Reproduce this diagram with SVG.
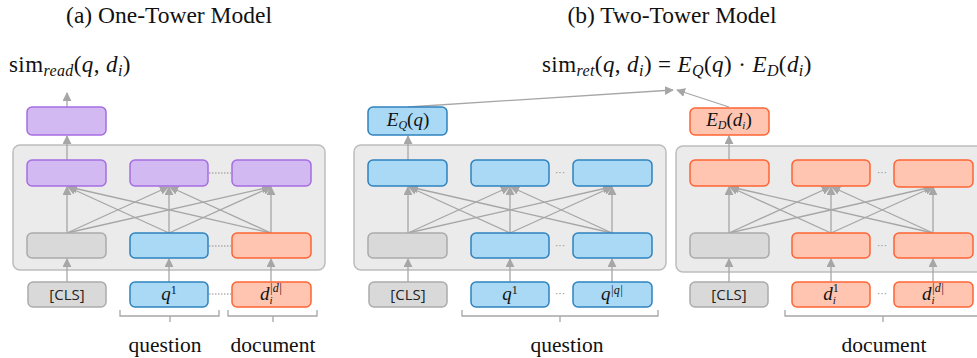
<svg xmlns="http://www.w3.org/2000/svg" width="977" height="358" viewBox="0 0 977 358">
<defs>
<marker id="ah" viewBox="0 0 10 10" refX="9" refY="5" markerWidth="9" markerHeight="9" markerUnits="userSpaceOnUse" orient="auto">
<path d="M0,0 L10,5 L0,10 Z" fill="#A6A6A6"/>
</marker>
<style>
.t{font-family:"Liberation Serif","Times New Roman",serif;fill:#111}
.i{font-style:italic}
.panel{fill:#EBEBEB;stroke:#BDBDBD;stroke-width:1.5}
.pu{fill:#D3B9F1;stroke:#A56DE2;stroke-width:1.5}
.bl{fill:#A9D9F5;stroke:#2E83BF;stroke-width:1.5}
.sa{fill:#FFC5B1;stroke:#FF6435;stroke-width:1.5}
.gr{fill:#D9D9D9;stroke:#ABABAB;stroke-width:1.5}
.c{stroke:#A6A6A6;stroke-width:1.3;fill:none}
.a{stroke:#A6A6A6;stroke-width:1.3;fill:none;marker-end:url(#ah)}
.dot{stroke:#8C8C8C;stroke-width:1;stroke-dasharray:1.5 1.5;fill:none}
.ell{font-family:"Liberation Sans",Arial,sans-serif;font-size:10px;fill:#8C8C8C}
.cls{font-family:"Open Sans","DejaVu Sans",sans-serif;font-size:15px;fill:#222}
.bt{font-family:"Liberation Serif",serif;font-style:italic;font-size:19px;fill:#111}
</style>
</defs>

<!-- titles -->
<text class="t" x="169" y="23" font-size="23.5" text-anchor="middle">(a) One-Tower Model</text>
<text class="t" x="672" y="23" font-size="23.5" text-anchor="middle">(b) Two-Tower Model</text>

<text class="t" x="9" y="72" font-size="23" letter-spacing="0.4">sim<tspan class="i" font-size="16" dy="4">read</tspan><tspan dy="-4">(</tspan><tspan class="i">q</tspan>, <tspan class="i">d</tspan><tspan class="i" font-size="16" dy="4">i</tspan><tspan dy="-4">)</tspan></text>
<text class="t" x="542" y="72" font-size="23" letter-spacing="0.4">sim<tspan class="i" font-size="16" dy="4">ret</tspan><tspan dy="-4">(</tspan><tspan class="i">q</tspan>, <tspan class="i">d</tspan><tspan class="i" font-size="16" dy="4">i</tspan><tspan dy="-4">) = </tspan><tspan class="i">E</tspan><tspan class="i" font-size="16" dy="4">Q</tspan><tspan dy="-4">(</tspan><tspan class="i">q</tspan>) · <tspan class="i">E</tspan><tspan class="i" font-size="16" dy="4">D</tspan><tspan dy="-4">(</tspan><tspan class="i">d</tspan><tspan class="i" font-size="16" dy="4">i</tspan><tspan dy="-4">)</tspan></text>

<!-- panels -->
<g id="panel-one"><rect class="panel" x="13" y="145" width="312" height="125" rx="7"/></g>
<g id="panel-q"><rect class="panel" x="354" y="145" width="312" height="125" rx="7"/></g>
<g id="panel-d"><rect class="panel" x="676" y="146" width="320" height="126" rx="7"/></g>

<!-- connectors -->
<g id="connectors">
<path class="a" d="M67,107 V93"/>
<path class="a" d="M67,160 V136"/>
<path class="a" d="M67,233 L67,187"/><path class="a" d="M67,233 L168,187"/><path class="a" d="M67,233 L270,187"/>
<path class="a" d="M169,233 L68,187"/><path class="a" d="M169,233 L169,187"/><path class="a" d="M169,233 L271,187"/>
<path class="a" d="M271,233 L69,187"/><path class="a" d="M271,233 L170,187"/><path class="a" d="M271,233 L271,187"/>
<path class="a" d="M67,282 V259"/><path class="a" d="M169,282 V259"/><path class="a" d="M271,282 V259"/>
<path class="dot" d="M209,173 H231 M209,246 H231 M209,294 H231"/>
<path class="a" d="M408,107 L673,90"/>
<path class="a" d="M408,160 V136"/>
<path class="a" d="M408,233 L408,187"/><path class="a" d="M408,233 L509,187"/><path class="a" d="M408,233 L611,187"/>
<path class="a" d="M510,233 L409,187"/><path class="a" d="M510,233 L510,187"/><path class="a" d="M510,233 L612,187"/>
<path class="a" d="M612,233 L410,187"/><path class="a" d="M612,233 L511,187"/><path class="a" d="M612,233 L612,187"/>
<path class="a" d="M408,282 V259"/><path class="a" d="M510,282 V259"/><path class="a" d="M612,282 V259"/>
<path class="a" d="M729,107 L677,90"/>
<path class="a" d="M729,160 V136"/>
<path class="a" d="M729,233 L729,187"/><path class="a" d="M729,233 L830,187"/><path class="a" d="M729,233 L932,187"/>
<path class="a" d="M831,233 L730,187"/><path class="a" d="M831,233 L831,187"/><path class="a" d="M831,233 L933,187"/>
<path class="a" d="M933,233 L731,187"/><path class="a" d="M933,233 L832,187"/><path class="a" d="M933,233 L933,187"/>
<path class="a" d="M729,282 V259"/><path class="a" d="M831,282 V259"/><path class="a" d="M933,282 V259"/>
<path class="c" d="M120,310 V316 H219 V310 M170,316 V322"/>
<path class="c" d="M228,310 V316 H317 V310 M273,316 V322"/>
<path class="c" d="M462,310 V316 H658 V310 M560,316 V322"/>
<path class="c" d="M785,310 V316 H980 M883,316 V322"/>
</g>

<text class="ell" x="560" y="176" text-anchor="middle">···</text>
<text class="ell" x="560" y="249" text-anchor="middle">···</text>
<text class="ell" x="560" y="297" text-anchor="middle">···</text>
<text class="ell" x="882" y="176" text-anchor="middle">···</text>
<text class="ell" x="882" y="249" text-anchor="middle">···</text>
<text class="ell" x="882" y="297" text-anchor="middle">···</text>

<!-- one tower nodes -->
<g id="a-out"><rect class="pu" x="27" y="107" width="79" height="28" rx="5"/></g>
<g id="a-h1"><rect class="pu" x="27" y="160" width="79" height="26" rx="5"/></g>
<g id="a-h2"><rect class="pu" x="130" y="160" width="78" height="26" rx="5"/></g>
<g id="a-h3"><rect class="pu" x="232" y="160" width="79" height="26" rx="5"/></g>
<g id="a-e1"><rect class="gr" x="27" y="233" width="79" height="25" rx="5"/></g>
<g id="a-e2"><rect class="bl" x="130" y="233" width="78" height="25" rx="5"/></g>
<g id="a-e3"><rect class="sa" x="232" y="233" width="79" height="25" rx="5"/></g>
<g id="a-cls"><rect class="gr" x="28" y="282" width="78" height="25" rx="5"/><text class="cls" x="67" y="300" text-anchor="middle">[CLS]</text></g>
<g id="a-q1"><rect class="bl" x="130" y="282" width="78" height="25" rx="5"/><text class="bt" x="169" y="300" text-anchor="middle">q<tspan font-style="normal" font-size="12" dy="-6">1</tspan></text></g>
<g id="a-d"><rect class="sa" x="232" y="282" width="79" height="25" rx="5"/><text class="bt" x="271" y="300" text-anchor="middle">d<tspan font-size="11" dy="4">i</tspan><tspan font-size="12" dx="-3" dy="-12">|d|</tspan></text></g>

<!-- question tower nodes -->
<g id="b-eq"><rect class="bl" x="368" y="107" width="79" height="28" rx="5"/><text class="bt" x="408" y="126" text-anchor="middle">E<tspan font-size="12" dy="3">Q</tspan><tspan font-style="normal" dy="-3">(</tspan>q<tspan font-style="normal">)</tspan></text></g>
<g id="b-h1"><rect class="bl" x="368" y="160" width="79" height="26" rx="5"/></g>
<g id="b-h2"><rect class="bl" x="471" y="160" width="78" height="26" rx="5"/></g>
<g id="b-h3"><rect class="bl" x="573" y="160" width="79" height="26" rx="5"/></g>
<g id="b-e1"><rect class="gr" x="368" y="233" width="79" height="25" rx="5"/></g>
<g id="b-e2"><rect class="bl" x="471" y="233" width="78" height="25" rx="5"/></g>
<g id="b-e3"><rect class="bl" x="573" y="233" width="79" height="25" rx="5"/></g>
<g id="b-cls"><rect class="gr" x="369" y="282" width="78" height="25" rx="5"/><text class="cls" x="408" y="300" text-anchor="middle">[CLS]</text></g>
<g id="b-q1"><rect class="bl" x="471" y="282" width="78" height="25" rx="5"/><text class="bt" x="510" y="300" text-anchor="middle">q<tspan font-style="normal" font-size="12" dy="-6">1</tspan></text></g>
<g id="b-qn"><rect class="bl" x="573" y="282" width="79" height="25" rx="5"/><text class="bt" x="612" y="300" text-anchor="middle">q<tspan font-size="12" dy="-6">|q|</tspan></text></g>

<!-- document tower nodes -->
<g id="c-ed"><rect class="sa" x="690" y="108" width="79" height="27" rx="5"/><text class="bt" x="729" y="126" text-anchor="middle">E<tspan font-size="12" dy="3">D</tspan><tspan font-style="normal" dy="-3">(</tspan>d<tspan font-size="11" dy="3">i</tspan><tspan font-style="normal" dy="-3">)</tspan></text></g>
<g id="c-h1"><rect class="sa" x="690" y="160" width="79" height="26" rx="5"/></g>
<g id="c-h2"><rect class="sa" x="792" y="160" width="78" height="26" rx="5"/></g>
<g id="c-h3"><rect class="sa" x="894" y="160" width="79" height="27" rx="5"/></g>
<g id="c-e1"><rect class="gr" x="690" y="233" width="79" height="25" rx="5"/></g>
<g id="c-e2"><rect class="sa" x="792" y="233" width="78" height="25" rx="5"/></g>
<g id="c-e3"><rect class="sa" x="894" y="233" width="79" height="25" rx="5"/></g>
<g id="c-cls"><rect class="gr" x="690" y="282" width="78" height="25" rx="5"/><text class="cls" x="729" y="300" text-anchor="middle">[CLS]</text></g>
<g id="c-d1"><rect class="sa" x="792" y="282" width="78" height="25" rx="5"/><text class="bt" x="831" y="300" text-anchor="middle">d<tspan font-size="11" dy="4">i</tspan><tspan font-style="normal" font-size="12" dx="-3" dy="-12">1</tspan></text></g>
<g id="c-dn"><rect class="sa" x="894" y="282" width="79" height="25" rx="5"/><text class="bt" x="933" y="300" text-anchor="middle">d<tspan font-size="11" dy="4">i</tspan><tspan font-size="12" dx="-3" dy="-12">|d|</tspan></text></g>

<!-- group labels -->
<text class="t" x="165" y="352" font-size="21.5" text-anchor="middle">question</text>
<text class="t" x="273" y="352" font-size="21.5" text-anchor="middle">document</text>
<text class="t" x="567" y="352" font-size="21.5" text-anchor="middle">question</text>
<text class="t" x="884" y="352" font-size="21.5" text-anchor="middle">document</text>
</svg>
